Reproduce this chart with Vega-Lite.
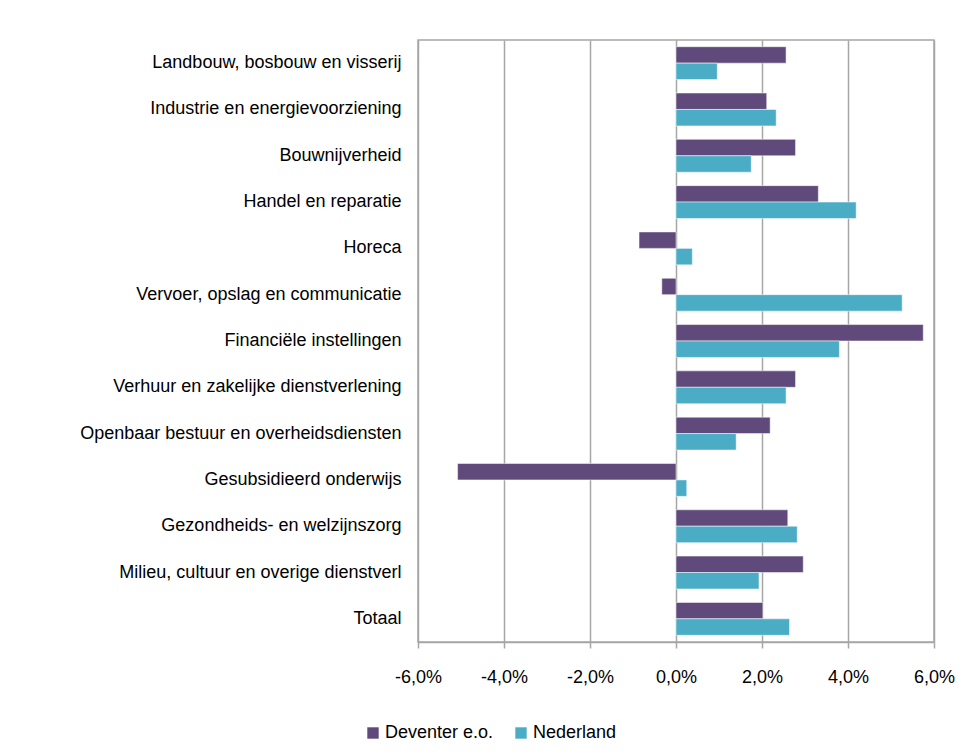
{
  "$schema": "https://vega.github.io/schema/vega-lite/v6.json",
  "autosize": {"type": "none"},
  "width": 516,
  "height": 602,
  "padding": {"left": 418, "top": 40, "right": 34, "bottom": 114},
  "background": "#ffffff",
  "config": {
    "font": "Liberation Sans",
    "view": {"stroke": "#a6a6a6", "strokeWidth": 1.5}
  },
  "data": {
    "values": [
      {"sector": "Landbouw, bosbouw en visserij", "regio": "Deventer e.o.", "groei": 2.56},
      {"sector": "Landbouw, bosbouw en visserij", "regio": "Nederland", "groei": 0.96},
      {"sector": "Industrie en energievoorziening", "regio": "Deventer e.o.", "groei": 2.11},
      {"sector": "Industrie en energievoorziening", "regio": "Nederland", "groei": 2.33},
      {"sector": "Bouwnijverheid", "regio": "Deventer e.o.", "groei": 2.78},
      {"sector": "Bouwnijverheid", "regio": "Nederland", "groei": 1.75},
      {"sector": "Handel en reparatie", "regio": "Deventer e.o.", "groei": 3.31},
      {"sector": "Handel en reparatie", "regio": "Nederland", "groei": 4.19},
      {"sector": "Horeca", "regio": "Deventer e.o.", "groei": -0.86},
      {"sector": "Horeca", "regio": "Nederland", "groei": 0.38},
      {"sector": "Vervoer, opslag en communicatie", "regio": "Deventer e.o.", "groei": -0.33},
      {"sector": "Vervoer, opslag en communicatie", "regio": "Nederland", "groei": 5.26},
      {"sector": "Financiële instellingen", "regio": "Deventer e.o.", "groei": 5.75},
      {"sector": "Financiële instellingen", "regio": "Nederland", "groei": 3.8},
      {"sector": "Verhuur en zakelijke dienstverlening", "regio": "Deventer e.o.", "groei": 2.78},
      {"sector": "Verhuur en zakelijke dienstverlening", "regio": "Nederland", "groei": 2.56},
      {"sector": "Openbaar bestuur en overheidsdiensten", "regio": "Deventer e.o.", "groei": 2.19},
      {"sector": "Openbaar bestuur en overheidsdiensten", "regio": "Nederland", "groei": 1.4},
      {"sector": "Gesubsidieerd onderwijs", "regio": "Deventer e.o.", "groei": -5.08},
      {"sector": "Gesubsidieerd onderwijs", "regio": "Nederland", "groei": 0.25},
      {"sector": "Gezondheids- en welzijnszorg", "regio": "Deventer e.o.", "groei": 2.6},
      {"sector": "Gezondheids- en welzijnszorg", "regio": "Nederland", "groei": 2.82},
      {"sector": "Milieu, cultuur en overige dienstverl", "regio": "Deventer e.o.", "groei": 2.96},
      {"sector": "Milieu, cultuur en overige dienstverl", "regio": "Nederland", "groei": 1.93},
      {"sector": "Totaal", "regio": "Deventer e.o.", "groei": 2.02},
      {"sector": "Totaal", "regio": "Nederland", "groei": 2.64}
    ]
  },
  "mark": {"type": "bar", "stroke": "#ffffff", "strokeWidth": 1, "strokeOpacity": 0.5},
  "encoding": {
    "y": {
      "field": "sector",
      "type": "nominal",
      "sort": null,
      "title": null,
      "scale": {"paddingInner": 0.29, "paddingOuter": 0.145},
      "axis": {
        "ticks": false,
        "domain": false,
        "labelFontSize": 18,
        "labelColor": "#000000",
        "labelPadding": 17,
        "labelLimit": 400
      }
    },
    "yOffset": {"field": "regio", "type": "nominal", "sort": ["Deventer e.o.", "Nederland"]},
    "x": {
      "field": "groei",
      "type": "quantitative",
      "title": null,
      "scale": {"domain": [-6, 6], "nice": false},
      "axis": {
        "values": [-6, -4, -2, 0, 2, 4, 6],
        "labelExpr": "replace(replace(format(datum.value / 100, '.1%'), '.', ','), '−', '-')",
        "labelFlush": false,
        "labelOverlap": false,
        "labelFontSize": 18,
        "labelColor": "#000000",
        "labelPadding": 20,
        "tickSize": 6,
        "tickColor": "#a6a6a6",
        "tickWidth": 1.5,
        "domainColor": "#a6a6a6",
        "domainWidth": 1.5,
        "grid": true,
        "gridColor": "#a6a6a6",
        "gridWidth": 1.5
      }
    },
    "color": {
      "field": "regio",
      "type": "nominal",
      "title": null,
      "scale": {"domain": ["Deventer e.o.", "Nederland"], "range": ["#604a7b", "#4bacc6"]},
      "legend": {
        "orient": "none",
        "legendX": -54,
        "legendY": 684,
        "direction": "horizontal",
        "symbolType": "square",
        "symbolSize": 130,
        "symbolStrokeWidth": 0,
        "labelFontSize": 18,
        "labelColor": "#000000",
        "labelOffset": 3,
        "columnPadding": 18
      }
    }
  }
}
